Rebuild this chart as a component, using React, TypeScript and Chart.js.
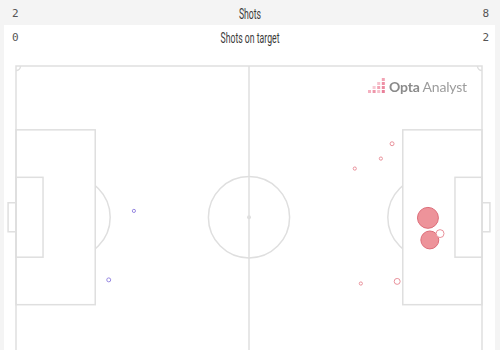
import React, { useEffect, useRef } from "react";
import { Chart, registerables } from "chart.js";

Chart.register(...registerables);

// Header stats
const statLabels = ["Shots", "Shots on target"];
const homeStats = ["2", "0"];
const awayStats = ["8", "2"];

// Shots (Opta coordinates, 0-100 both axes, y measured from top)
const awayShotX = [80.7, 78.3, 72.7, 88.4, 88.8, 91.0, 74.0, 81.8];
const awayShotY = [25.7, 30.6, 33.9, 50.2, 57.5, 55.4, 71.9, 71.2];
const awayShotXG = [0.02, 0.012, 0.012, 0.56, 0.41, 0.08, 0.012, 0.045];
const awayOnTarget = [false, false, false, true, true, false, false, false];

const homeShotX = [25.3, 19.9];
const homeShotY = [47.9, 70.7];
const homeShotXG = [0.012, 0.02];
const homeOnTarget = [false, false];

const LINE = "#dfdfdf";

const radius = (xg: number) => Math.max(1.6, 14 * Math.sqrt(xg));

const pitchPlugin = {
  id: "pitch",
  beforeDatasetsDraw(chart: any) {
    const { ctx, scales } = chart;
    const X = (v: number) => scales.x.getPixelForValue(v);
    const Y = (v: number) => scales.y.getPixelForValue(v);
    ctx.save();
    ctx.strokeStyle = LINE;
    ctx.lineWidth = 1.5;
    const rect = (x0: number, y0: number, x1: number, y1: number) => {
      ctx.strokeRect(X(x0), Y(y0), X(x1) - X(x0), Y(y1) - Y(y0));
    };
    rect(0, 0, 100, 100);
    ctx.beginPath();
    ctx.moveTo(X(50), Y(0));
    ctx.lineTo(X(50), Y(100));
    ctx.stroke();
    rect(0, 21.1, 17, 78.9);
    rect(83, 21.1, 100, 78.9);
    rect(0, 36.8, 5.8, 63.2);
    rect(94.2, 36.8, 100, 63.2);
    rect(-1.7, 45.2, 0, 54.8);
    rect(100, 45.2, 101.7, 54.8);
    const rx = X(8.714) - X(0);
    const ry = Y(13.456) - Y(0);
    ctx.beginPath();
    ctx.ellipse(X(50), Y(50), rx, ry, 0, 0, Math.PI * 2);
    ctx.stroke();
    ctx.fillStyle = LINE;
    ctx.beginPath();
    ctx.arc(X(50), Y(50), 2, 0, Math.PI * 2);
    ctx.fill();
    ctx.save();
    ctx.beginPath();
    ctx.rect(X(17), 0, X(30) - X(17), chart.height);
    ctx.clip();
    ctx.beginPath();
    ctx.ellipse(X(11.5), Y(50), rx, ry, 0, 0, Math.PI * 2);
    ctx.stroke();
    ctx.restore();
    ctx.save();
    ctx.beginPath();
    ctx.rect(X(70), 0, X(83) - X(70), chart.height);
    ctx.clip();
    ctx.beginPath();
    ctx.ellipse(X(88.5), Y(50), rx, ry, 0, 0, Math.PI * 2);
    ctx.stroke();
    ctx.restore();
    const cr = 4.5;
    const corners: [number, number, number, number][] = [
      [0, 0, 0, Math.PI / 2],
      [100, 0, Math.PI / 2, Math.PI],
      [0, 100, -Math.PI / 2, 0],
      [100, 100, Math.PI, Math.PI * 1.5],
    ];
    corners.forEach(([cx, cy, a0, a1]) => {
      ctx.beginPath();
      ctx.arc(X(cx), Y(cy), cr, a0, a1);
      ctx.stroke();
    });
    const dots: [number, number, string][] = [
      [3, 0, "#f2a3b4"],
      [2, 1, "#f6c1cc"], [3, 1, "#ee8fa5"],
      [1, 2, "#f7c9d3"], [2, 2, "#f2a3b4"], [3, 2, "#ec8aa0"],
      [0, 3, "#f4b1c0"], [1, 3, "#ee96aa"], [2, 3, "#f6c1cc"], [3, 3, "#e9809a"],
    ];
    dots.forEach(([c, r, col]) => {
      ctx.fillStyle = col;
      ctx.fillRect(368 + c * 4.6, 78 + r * 4, 3, 3);
    });
    ctx.restore();
  },
};

function App() {
  const ref = useRef<HTMLCanvasElement | null>(null);
  useEffect(() => {
    if (!ref.current) return;
    const mk = (xs: number[], ys: number[], xg: number[], ot: boolean[], fill: string, light: string, border: string, borderOn: string) =>
      ({
        data: xs.map((x, i) => ({ x, y: ys[i], r: radius(xg[i]) })),
        backgroundColor: ot.map((o) => (o ? fill : light)),
        borderColor: ot.map((o) => (o ? borderOn : border)),
        borderWidth: 1,
      });
    const chart = new Chart(ref.current, {
      type: "bubble",
      data: {
        datasets: [
          mk(awayShotX, awayShotY, awayShotXG, awayOnTarget, "rgba(234,128,136,0.85)", "rgba(255,255,255,0.9)", "#e8909a", "#dc6c78"),
          mk(homeShotX, homeShotY, homeShotXG, homeOnTarget, "rgba(150,134,224,0.85)", "rgba(255,255,255,0.9)", "#9687e0", "#7868cc"),
        ] as any,
      },
      options: {
        animation: false,
        responsive: false,
        layout: { padding: { left: 16, right: 18, top: 66, bottom: 10 } },
        plugins: { legend: { display: false }, tooltip: { enabled: false } },
        scales: {
          x: { type: "linear", min: 0, max: 100, display: false },
          y: { type: "linear", min: 0, max: 100, reverse: true, display: false },
        },
        clip: false as any,
      },
      plugins: [pitchPlugin],
    });
    return () => chart.destroy();
  }, []);

  const numStyle: React.CSSProperties = {
    position: "absolute",
    fontFamily: "'DejaVu Sans Mono', monospace",
    fontSize: 11,
    color: "#555",
  };
  const titleStyle: React.CSSProperties = {
    position: "absolute",
    left: 0,
    width: 500,
    textAlign: "center",
    fontFamily: "Roboto, sans-serif",
    fontWeight: 400,
    fontSize: 14,
    color: "#3a3a3a",
    transform: "scaleX(0.62)",
  };

  return (
    <div style={{ position: "absolute", left: 0, top: 0, width: 500, height: 380, background: "#f4f4f4", overflow: "hidden" }}>
      <div style={{ position: "absolute", left: 4, top: 25, width: 491, height: 360, background: "#ffffff" }} />
      {statLabels.map((lab, i) => (
        <React.Fragment key={lab}>
          <div style={{ ...numStyle, left: 12, top: 7 + i * 24 }}>{homeStats[i]}</div>
          <div style={{ ...titleStyle, top: 6 + i * 24 }}>{lab}</div>
          <div style={{ ...numStyle, right: 11, top: 7 + i * 24 }}>{awayStats[i]}</div>
        </React.Fragment>
      ))}
      <canvas ref={ref} width={500} height={380} style={{ position: "absolute", left: 0, top: 0 }} />
      <div style={{ position: "absolute", left: 389, top: 78, fontFamily: "Lato, sans-serif", fontSize: 14, whiteSpace: "nowrap", letterSpacing: -0.2 }}>
        <span style={{ color: "#8a8a8a", fontWeight: 700 }}>Opta</span>
        <span style={{ color: "#9c9c9c", fontWeight: 400, marginLeft: 3 }}>Analyst</span>
      </div>
    </div>
  );
}

export default App;
